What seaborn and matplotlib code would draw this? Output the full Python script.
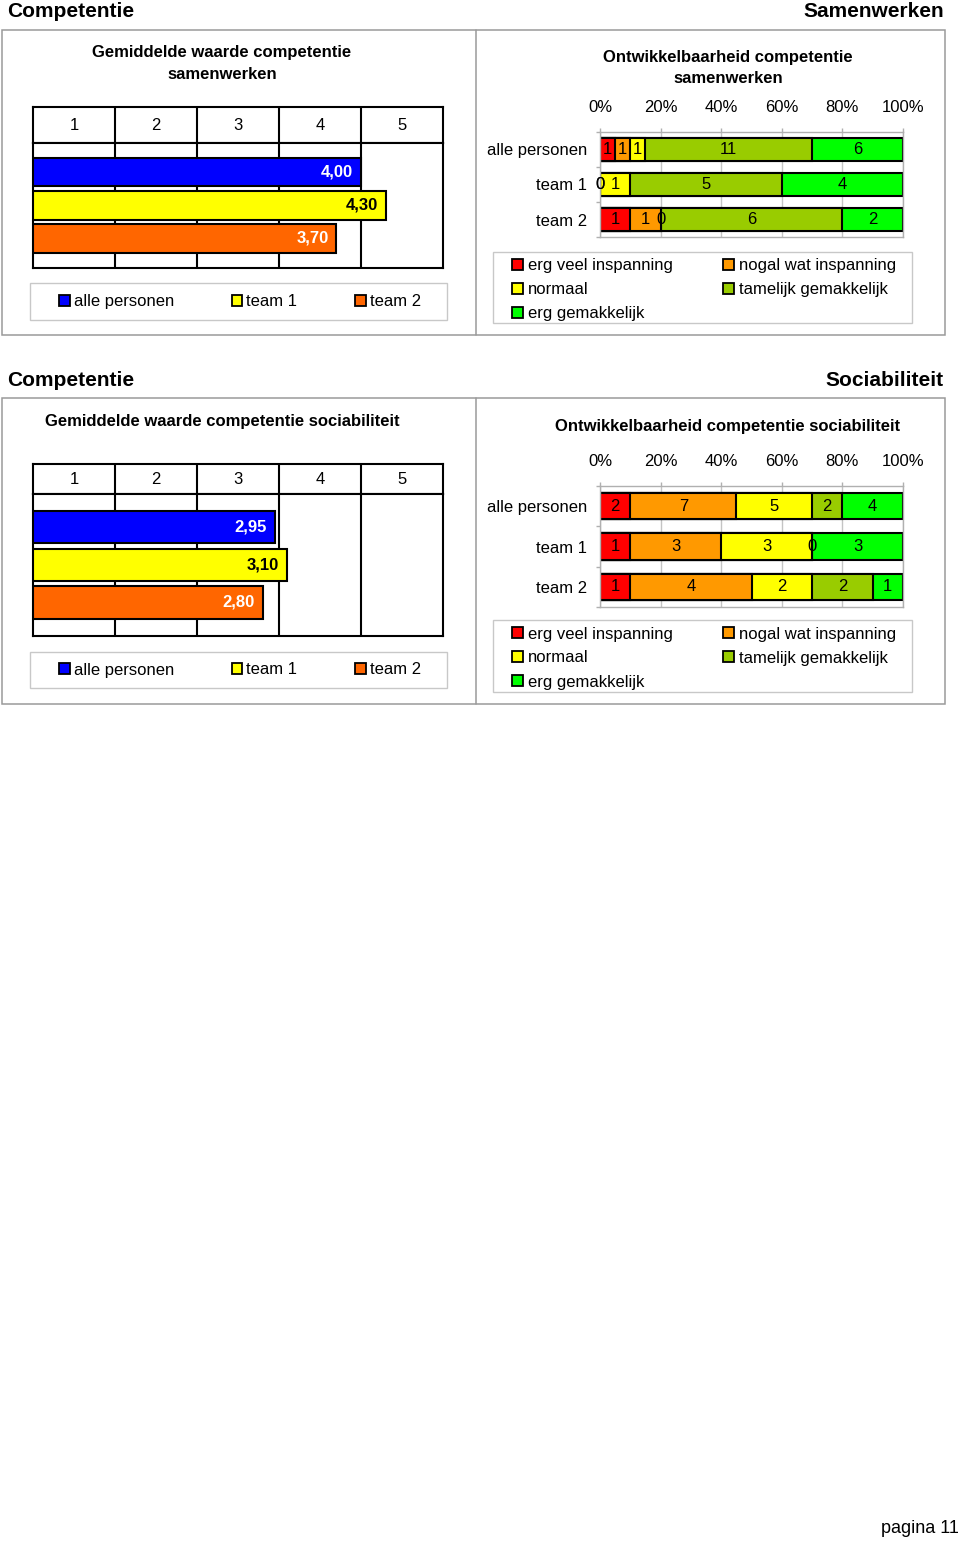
import numpy as np
import pandas as pd
import matplotlib
matplotlib.use("Agg")
import matplotlib.pyplot as plt
import seaborn as sns
from matplotlib.patches import Rectangle, Patch
from matplotlib.lines import Line2D

# ---------------- data ----------------
groups = ["alle personen", "team 1", "team 2"]
levels = ["erg veel inspanning", "nogal wat inspanning", "normaal",
          "tamelijk gemakkelijk", "erg gemakkelijk"]
scale_labels = ["1", "2", "3", "4", "5"]
pct_ticks = [0, 20, 40, 60, 80, 100]

mean_samenwerken = [4.00, 4.30, 3.70]
mean_sociabiliteit = [2.95, 3.10, 2.80]

counts_samenwerken_alle = [1, 1, 1, 11, 6]
counts_samenwerken_team1 = [0, 0, 1, 5, 4]
counts_samenwerken_team2 = [1, 1, 0, 6, 2]

counts_sociabiliteit_alle = [2, 7, 5, 2, 4]
counts_sociabiliteit_team1 = [1, 3, 3, 0, 3]
counts_sociabiliteit_team2 = [1, 4, 2, 2, 1]

group_colors = ["#0000FF", "#FFFF00", "#FF6600"]
value_text_colors = ["white", "black", "white"]
level_colors = ["#FF0000", "#FF9900", "#FFFF00", "#99CC00", "#00FF00"]

# ---------------- setup ----------------
W, H = 960, 1543
sns.set_theme(style="white")
plt.rcParams['font.family'] = ['Liberation Sans', 'DejaVu Sans']
plt.rcParams['text.color'] = 'black'
plt.rcParams['axes.labelcolor'] = 'black'
plt.rcParams['xtick.labelcolor'] = 'black'
plt.rcParams['ytick.labelcolor'] = 'black'
FS = 12
PT = 72 / 100  # points per pixel

fig = plt.figure(figsize=(W / 100, H / 100), dpi=100)
fig.patch.set_facecolor("white")


def rect(x0, y0, x1, y1):
    return [x0 / W, 1 - y1 / H, (x1 - x0) / W, (y1 - y0) / H]


def fx(x):
    return x / W


def fy(y):
    return 1 - y / H


def section_frame(y0, y1):
    fig.add_artist(Rectangle((fx(2), fy(y1)), (945 - 2) / W, (y1 - y0) / H,
                             transform=fig.transFigure, fill=False,
                             ec="#9A9A9A", lw=1.1))
    fig.add_artist(Line2D([fx(476), fx(476)], [fy(y0), fy(y1)],
                          transform=fig.transFigure, color="#9A9A9A", lw=1.1))


def legend_frame(x0, y0, x1, y1):
    fig.add_artist(Rectangle((fx(x0), fy(y1)), (x1 - x0) / W, (y1 - y0) / H,
                             transform=fig.transFigure, fill=False,
                             ec="#C8C8C8", lw=1.0))


def mean_chart(means, header_box, plot_box, leg_y0, leg_y1):
    hax = fig.add_axes(rect(*header_box))
    hax.set_xlim(0, 5)
    hax.set_ylim(0, 1)
    for k in range(1, 5):
        hax.axvline(k, color="black", lw=1.5)
    for i, s in enumerate(scale_labels):
        hax.text(i + 0.5, 0.5, s, ha="center", va="center", fontsize=FS,
                 color="black")
    hax.set_xticks([])
    hax.set_yticks([])
    for sp in hax.spines.values():
        sp.set_visible(True)
        sp.set_color("black")
        sp.set_linewidth(1.5)

    ax = fig.add_axes(rect(*plot_box))
    df = pd.DataFrame({"groep": groups, "gemiddelde": means})
    sns.barplot(data=df, x="gemiddelde", y="groep", hue="groep",
                palette=group_colors, orient="h", width=0.86, saturation=1,
                edgecolor="black", linewidth=1.5, legend=False, ax=ax)
    for p in ax.patches:
        p.set_zorder(3)
    for k in range(1, 5):
        ax.axvline(k, color="black", lw=1.5, zorder=1)
    ax.set_xlim(0, 5)
    ax.set_ylim(2.89, -0.88)
    ax.set_xticks([])
    ax.set_yticks([])
    ax.set_xlabel("")
    ax.set_ylabel("")
    for sp in ax.spines.values():
        sp.set_visible(True)
        sp.set_color("black")
        sp.set_linewidth(1.5)
    for i, v in enumerate(means):
        ax.annotate(f"{v:.2f}".replace(".", ","), xy=(v, i),
                    xytext=(-8 * PT, 0), textcoords="offset points",
                    ha="right", va="center", fontsize=FS, fontweight="bold",
                    color=value_text_colors[i], zorder=5)

    handles = [Patch(facecolor=c, edgecolor="black", lw=1.3) for c in group_colors]
    fig.legend(handles, groups, loc="center", ncol=3, mode="expand",
               bbox_to_anchor=(fx(59), fy(leg_y1), (421 - 59) / W, (leg_y1 - leg_y0) / H),
               frameon=False, borderpad=0, borderaxespad=0,
               handlelength=0.64, handleheight=0.64, handletextpad=0.25,
               fontsize=FS, labelcolor="black")
    legend_frame(30, leg_y0, 447, leg_y1)


def stacked_chart(rows, plot_box, leg_y0, leg_y1):
    counts = np.array(rows, dtype=float)
    pct = counts / counts.sum(axis=1, keepdims=True) * 100
    cum = pct.cumsum(axis=1)
    ax = fig.add_axes(rect(*plot_box))
    for j in reversed(range(len(levels))):
        df = pd.DataFrame({"groep": groups, "cum": cum[:, j]})
        sns.barplot(data=df, x="cum", y="groep", color=level_colors[j],
                    orient="h", width=0.66, saturation=1,
                    edgecolor="black", linewidth=1.5, ax=ax)
    ax.set_xlim(0, 100)
    ax.set_ylim(2.5, -0.5)
    ax.set_xlabel("")
    ax.set_ylabel("")
    ax.set_xticks(pct_ticks)
    ax.set_xticklabels([f"{t}%" for t in pct_ticks])
    ax.xaxis.tick_top()
    ax.xaxis.grid(True, color="#C4C4C4", lw=1)
    ax.set_axisbelow(True)
    ax.set_yticks([-0.5, 0.5, 1.5, 2.5], minor=True)
    ax.tick_params(axis="x", which="major", top=True, length=4 * PT, width=1,
                   color="#B0B0B0", pad=13 * PT, labelsize=FS,
                   labelcolor="black")
    ax.tick_params(axis="y", which="major", left=False, length=0,
                   pad=13 * PT, labelsize=FS, labelcolor="black")
    ax.tick_params(axis="y", which="minor", left=True, length=4 * PT, width=1,
                   color="#B0B0B0")
    for sp in ax.spines.values():
        sp.set_visible(True)
        sp.set_color("#B0B0B0")
        sp.set_linewidth(1)
    for i in range(len(groups)):
        for j in range(len(levels)):
            x = cum[i, j] - pct[i, j] / 2
            ax.text(x, i, f"{int(counts[i, j])}", ha="center", va="center",
                    fontsize=FS, color="black", zorder=5)

    order = [0, 2, 4, 1, 3]
    handles = [Patch(facecolor=level_colors[k], edgecolor="black", lw=1.3) for k in order]
    labels = [levels[k] for k in order]
    fig.legend(handles, labels, loc="center", ncol=2, mode="expand",
               bbox_to_anchor=(fx(512), fy(leg_y1 + 2), (896 - 512) / W, (leg_y1 - leg_y0) / H),
               frameon=False, borderpad=0, borderaxespad=0,
               handlelength=0.66, handleheight=0.66, handletextpad=0.28,
               labelspacing=0.54, fontsize=FS, labelcolor="black")
    legend_frame(493, leg_y0, 912, leg_y1)


# ---------------- section 1: Samenwerken ----------------
fig.text(fx(7), fy(17), "Competentie", ha="left", va="baseline",
         fontsize=15, fontweight="bold")
fig.text(fx(944), fy(17), "Samenwerken", ha="right", va="baseline",
         fontsize=15, fontweight="bold")
section_frame(30, 335)

fig.text(fx(222), fy(57), "Gemiddelde waarde competentie", ha="center",
         va="baseline", fontsize=FS, fontweight="bold")
fig.text(fx(222), fy(79), "samenwerken", ha="center",
         va="baseline", fontsize=FS, fontweight="bold")
mean_chart(mean_samenwerken, (33, 107, 443, 143), (33, 143, 443, 268), 283, 320)

fig.text(fx(728), fy(62), "Ontwikkelbaarheid competentie", ha="center",
         va="baseline", fontsize=FS, fontweight="bold")
fig.text(fx(728), fy(83), "samenwerken", ha="center",
         va="baseline", fontsize=FS, fontweight="bold")
stacked_chart([counts_samenwerken_alle, counts_samenwerken_team1,
               counts_samenwerken_team2], (600, 132, 903, 237), 252, 323)

# ---------------- section 2: Sociabiliteit ----------------
fig.text(fx(7), fy(386), "Competentie", ha="left", va="baseline",
         fontsize=15, fontweight="bold")
fig.text(fx(944), fy(386), "Sociabiliteit", ha="right", va="baseline",
         fontsize=15, fontweight="bold")
section_frame(398, 704)

fig.text(fx(222), fy(426), "Gemiddelde waarde competentie sociabiliteit",
         ha="center", va="baseline", fontsize=FS, fontweight="bold")
mean_chart(mean_sociabiliteit, (33, 464, 443, 494), (33, 494, 443, 636), 652, 688)

fig.text(fx(728), fy(431), "Ontwikkelbaarheid competentie sociabiliteit",
         ha="center", va="baseline", fontsize=FS, fontweight="bold")
stacked_chart([counts_sociabiliteit_alle, counts_sociabiliteit_team1,
               counts_sociabiliteit_team2], (600, 486, 903, 607), 620, 692)

# ---------------- footer ----------------
fig.text(fx(959), fy(1533), "pagina 11", ha="right", va="baseline", fontsize=13)

fig.savefig("out.png", dpi=100, facecolor="white")
